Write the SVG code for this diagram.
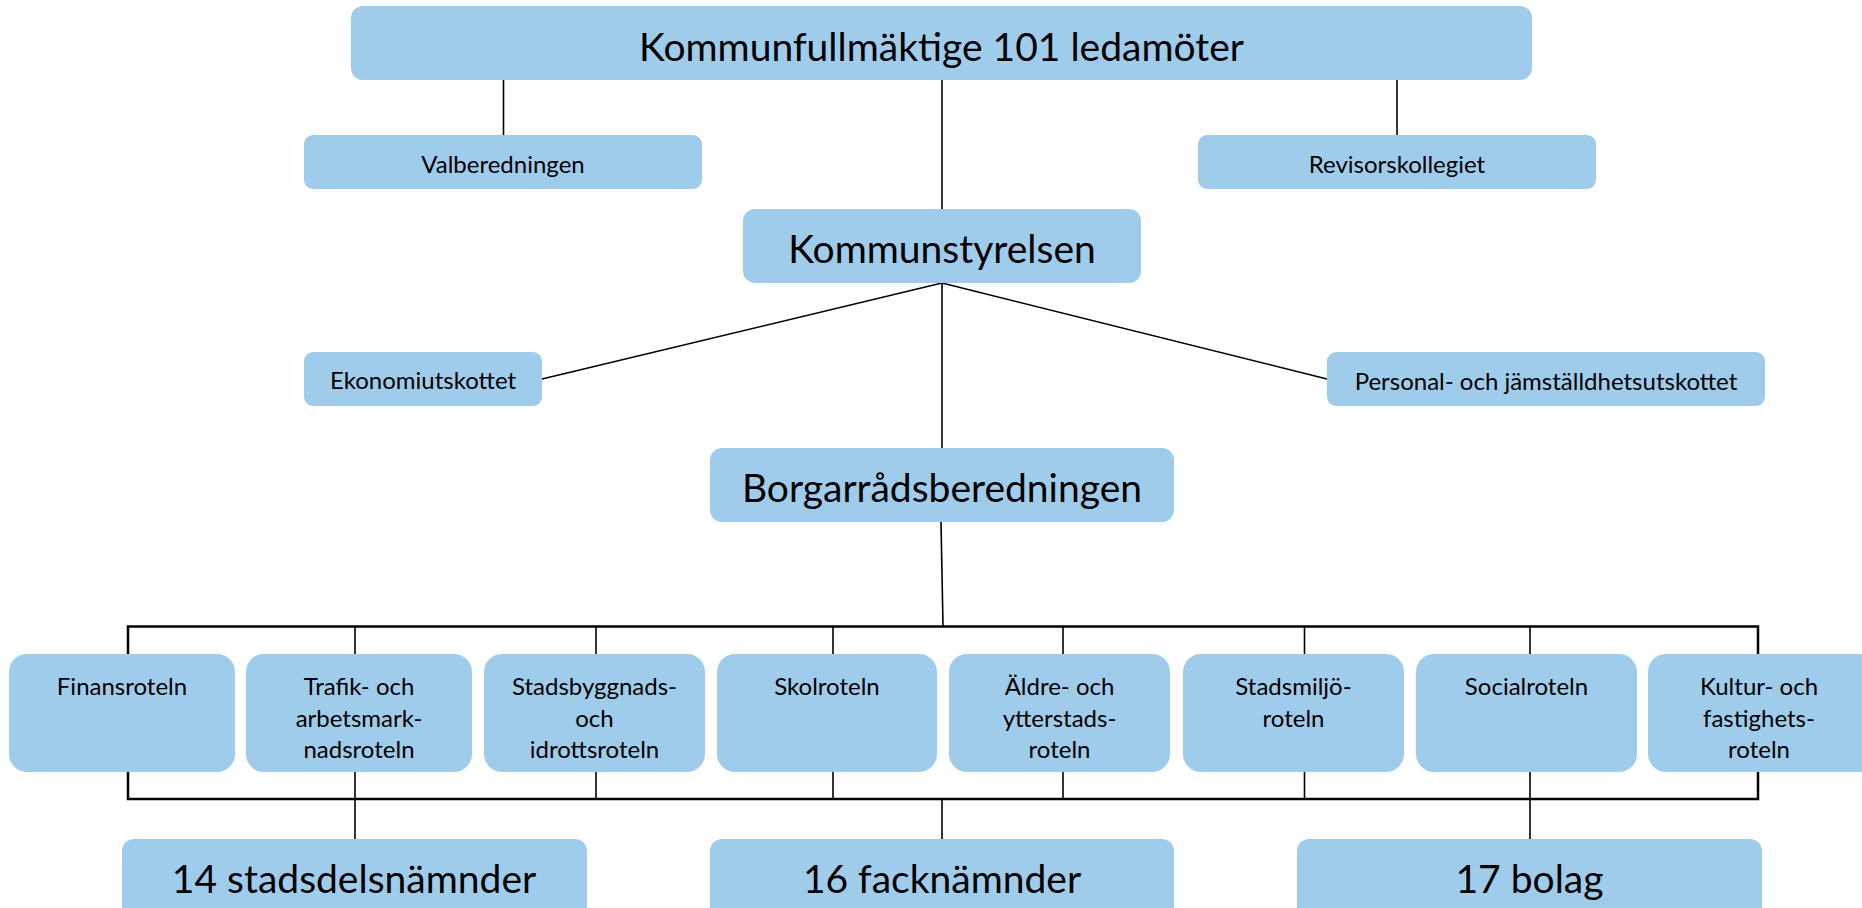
<svg xmlns="http://www.w3.org/2000/svg" width="1862" height="908" viewBox="0 0 1862 908">
<style>
.box{fill:#A0CCEC}
.big{font-family:Lato,"Liberation Sans",sans-serif;font-size:39px;fill:#000;text-anchor:middle}
.sm{font-family:Lato,"Liberation Sans",sans-serif;font-size:24px;fill:#000;text-anchor:middle}
.ln{stroke:#000;stroke-width:1.6;fill:none}
.bus{stroke:#000;stroke-width:2.5;fill:none}
</style>
<rect width="1862" height="908" fill="#fff"/>
<g id="connectors">
<line class="ln" x1="503.5" y1="80" x2="503.5" y2="135"/>
<line class="ln" x1="1397" y1="80" x2="1397" y2="135"/>
<line class="ln" x1="942" y1="80" x2="942" y2="209"/>
<line class="ln" x1="942" y1="283" x2="542" y2="379"/>
<line class="ln" x1="942" y1="283" x2="1327" y2="379"/>
<line class="ln" x1="942" y1="283" x2="942" y2="448"/>
<line class="ln" x1="941" y1="522" x2="943" y2="626"/>
<rect class="bus" x="128" y="626.5" width="1630" height="172.5"/>
<line class="ln" x1="355" y1="626" x2="355" y2="839"/>
<line class="ln" x1="596" y1="626" x2="596" y2="799"/>
<line class="ln" x1="833" y1="626" x2="833" y2="799"/>
<line class="ln" x1="1063" y1="626" x2="1063" y2="799"/>
<line class="ln" x1="1304.5" y1="626" x2="1304.5" y2="799"/>
<line class="ln" x1="1530" y1="626" x2="1530" y2="839"/>
<line class="ln" x1="942" y1="799" x2="942" y2="839"/>
</g>
<g id="kommunfullmaktige"><rect class="box" x="351" y="6" width="1181" height="74" rx="12"/><text class="big" x="941.5" y="61">Kommunfullmäktige 101 ledamöter</text></g>
<g id="valberedningen"><rect class="box" x="304" y="135" width="398" height="54" rx="9"/><text class="sm" x="503" y="173">Valberedningen</text></g>
<g id="revisorskollegiet"><rect class="box" x="1198" y="135" width="398" height="54" rx="9"/><text class="sm" x="1397" y="173">Revisorskollegiet</text></g>
<g id="kommunstyrelsen"><rect class="box" x="743" y="209" width="398" height="74" rx="12"/><text class="big" x="942" y="263">Kommunstyrelsen</text></g>
<g id="ekonomiutskottet"><rect class="box" x="304" y="352" width="238" height="54" rx="9"/><text class="sm" x="423" y="389">Ekonomiutskottet</text></g>
<g id="personalutskottet"><rect class="box" x="1327" y="352" width="438" height="54" rx="9"/><text class="sm" x="1546" y="390">Personal- och jämställdhetsutskottet</text></g>
<g id="borgarradsberedningen"><rect class="box" x="710" y="448" width="464" height="74" rx="12"/><text class="big" x="942" y="502">Borgarrådsberedningen</text></g>
<g id="finansroteln"><rect class="box" x="9" y="654" width="226" height="118" rx="18"/><text class="sm" x="122" y="695">Finansroteln</text></g>
<g id="trafikroteln"><rect class="box" x="246" y="654" width="226" height="118" rx="18"/><text class="sm" x="359" y="695">Trafik- och</text><text class="sm" x="359" y="727">arbetsmark-</text><text class="sm" x="359" y="758">nadsroteln</text></g>
<g id="stadsbyggnadsroteln"><rect class="box" x="484" y="654" width="221" height="118" rx="18"/><text class="sm" x="594.5" y="695">Stadsbyggnads-</text><text class="sm" x="594.5" y="727">och</text><text class="sm" x="594.5" y="758">idrottsroteln</text></g>
<g id="skolroteln"><rect class="box" x="717" y="654" width="220" height="118" rx="18"/><text class="sm" x="827" y="695">Skolroteln</text></g>
<g id="aldreroteln"><rect class="box" x="949" y="654" width="221" height="118" rx="18"/><text class="sm" x="1059.5" y="695">Äldre- och</text><text class="sm" x="1059.5" y="727">ytterstads-</text><text class="sm" x="1059.5" y="758">roteln</text></g>
<g id="stadsmiljoroteln"><rect class="box" x="1183" y="654" width="221" height="118" rx="18"/><text class="sm" x="1293.5" y="695">Stadsmiljö-</text><text class="sm" x="1293.5" y="727">roteln</text></g>
<g id="socialroteln"><rect class="box" x="1416" y="654" width="221" height="118" rx="18"/><text class="sm" x="1526.5" y="695">Socialroteln</text></g>
<g id="kulturroteln"><rect class="box" x="1648" y="654" width="230" height="118" rx="18"/><text class="sm" x="1759" y="695">Kultur- och</text><text class="sm" x="1759" y="727">fastighets-</text><text class="sm" x="1759" y="758">roteln</text></g>
<g id="stadsdelsnamnder"><rect class="box" x="122" y="839" width="465" height="85" rx="12"/><text class="big" x="354" y="893">14 stadsdelsnämnder</text></g>
<g id="facknamnder"><rect class="box" x="710" y="839" width="464" height="85" rx="12"/><text class="big" x="942" y="893">16 facknämnder</text></g>
<g id="bolag"><rect class="box" x="1297" y="839" width="465" height="85" rx="12"/><text class="big" x="1529.5" y="893">17 bolag</text></g>
</svg>
